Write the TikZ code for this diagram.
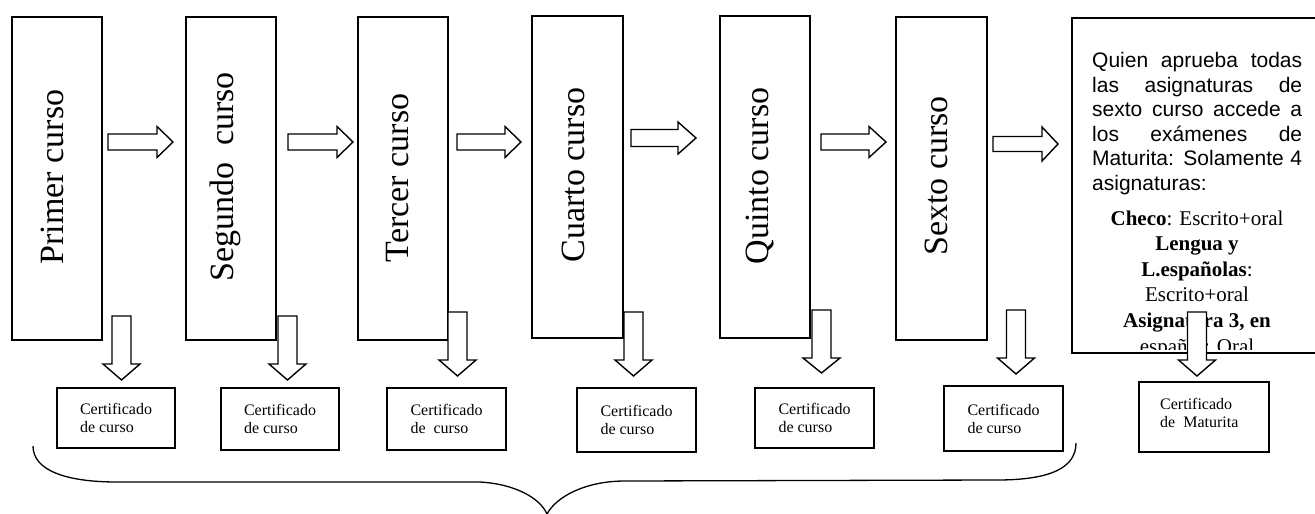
\documentclass[tikz,border=0pt]{standalone}
\usepackage{fontspec}
\setmainfont{Liberation Serif}
\newfontfamily\arialf{Liberation Sans}
\newcommand\myRarrow[6]{%
  \draw[blockarrow] (#1,{#4-#5}) -- (#2,{#4-#5}) -- (#2,{#4-#6}) -- (#3,#4) -- (#2,{#4+#6}) -- (#2,{#4+#5}) -- (#1,{#4+#5}) -- cycle;}
\newcommand\myDarrow[4]{%
  \draw[blockarrow] ({#1-9.5},#2) -- ({#1+9.5},#2) -- ({#1+9.5},#3) -- ({#1+18.5},#3) -- (#1,#4) -- ({#1-18.5},#3) -- ({#1-9.5},#3) -- cycle;}
\begin{document}
\begin{tikzpicture}[x=1pt,y=-1pt,
  bigbox/.style={draw, line width=1.5pt, anchor=north west, inner sep=0pt},
  vlabel/.style={rotate=90, anchor=base, inner sep=0pt, font=\fontsize{34}{40}\selectfont},
  certbox/.style={draw, line width=1.5pt, align=left, inner sep=0pt, font=\fontsize{16}{18}\selectfont},
  certtxt/.style={align=left, inner sep=0pt, font=\fontsize{16}{18}\selectfont},
  blockarrow/.style={draw, line width=1.4pt, fill=white, line join=miter},
  sansline/.style={anchor=base west, inner sep=0pt, font=\arialf\fontsize{21}{24}\selectfont},
  serifline/.style={anchor=base, inner sep=0pt, font=\fontsize{21}{25}\selectfont},
  bracepath/.style={line width=1.3pt}]
\useasboundingbox (0,0) rectangle (1315,514);
\fill[white] (0,0) rectangle (1315,514);

% tall course boxes
\node[bigbox, minimum width=90pt, minimum height=323pt] (b1) at (11,16) {};
\node[bigbox, minimum width=90pt, minimum height=323pt] (b2) at (185,16) {};
\node[bigbox, minimum width=90pt, minimum height=323pt] (b3) at (357,16) {};
\node[bigbox, minimum width=91pt, minimum height=322pt] (b4) at (531,15) {};
\node[bigbox, minimum width=90pt, minimum height=322pt] (b5) at (719,15) {};
\node[bigbox, minimum width=91pt, minimum height=323pt] (b6) at (895,16) {};

\node[vlabel] (l1) at (63,177) {Primer curso};
\node[vlabel] (l2) at (233,177) {Segundo\ \ curso};
\node[vlabel] (l3) at (408,178) {Tercer curso};
\node[vlabel] (l4) at (584,175) {Cuarto curso};
\node[vlabel] (l5) at (768,176) {Quinto curso};
\node[vlabel] (l6) at (947,176) {Sexto curso};

% Maturita text box
\node[bigbox, minimum width=262pt, minimum height=335pt] (t) at (1071,17) {};
\node[sansline] (s1) at (1092,67.5) {\makebox[210pt][s]{Quien aprueba todas}};
\node[sansline] (s2) at (1092,92) {\makebox[210pt][s]{las asignaturas de}};
\node[sansline] (s3) at (1092,116.5) {\makebox[210pt][s]{sexto curso accede a}};
\node[sansline] (s4) at (1092,141) {\makebox[210pt][s]{los exámenes de}};
\node[sansline] (s5) at (1092,165.5) {\makebox[210pt][s]{Maturita: Solamente 4}};
\node[sansline] (s6) at (1092,190) {asignaturas:};
\begin{scope}
\clip (1073,19) rectangle (1320,349);
\node[serifline] (r1) at (1197,225) {\textbf{Checo}: Escrito+oral};
\node[serifline] (r2) at (1197,250.6) {\textbf{Lengua y}};
\node[serifline] (r3) at (1197,276.2) {\textbf{L.españolas}:};
\node[serifline] (r4) at (1197,301.8) {Escrito+oral};
\node[serifline] (r5) at (1197,327.4) {\textbf{Asignatura 3, en}};
\node[serifline] (r6) at (1197,353) {español: Oral};
\end{scope}

% horizontal block arrows
\myRarrow{108}{157}{173}{142}{8}{15.5}
\myRarrow{288}{337}{353}{142}{8}{15.5}
\myRarrow{457}{505}{521}{142}{8}{15.5}
\myRarrow{631}{678}{696}{138}{8.5}{16}
\myRarrow{821}{869}{886}{142}{8}{15.5}
\myRarrow{993}{1042}{1058}{144}{7.5}{17}

% certificate boxes
\node[certbox, minimum width=118pt, minimum height=60pt] (c1) at (116,418) {Certificado\\de curso};
\node[certbox, minimum width=118pt, minimum height=62pt] (c2) at (280,419) {Certificado\\de curso};
\node[certbox, minimum width=119pt, minimum height=62pt] (c3) at (446.5,419) {Certificado\\de\ \ curso};
\node[certbox, minimum width=119pt, minimum height=64pt] (c4) at (636.5,420) {Certificado\\de curso};
\node[certbox, minimum width=119pt, minimum height=60pt] (c5) at (814.5,418) {Certificado\\de curso};
\node[certbox, minimum width=119pt, minimum height=65pt] (c6) at (1003.5,418.5) {Certificado\\de curso};
\node[certbox, minimum width=130pt, minimum height=70pt] (c7) at (1204,417) {};
\node[certtxt, anchor=west] (c7t) at (1160,412.5) {Certificado\\de\ \ Maturita};

% downward block arrows
\myDarrow{121.5}{316}{364}{380}
\myDarrow{287.5}{316}{364}{380}
\myDarrow{457.5}{312}{360}{376}
\myDarrow{633.5}{312}{360}{376}
\myDarrow{821.5}{310}{358}{373}
\myDarrow{1016}{310}{358}{374}
\myDarrow{1197}{312}{360}{376}

% brace
\draw[bracepath] (33,446) .. controls (33,470) and (65,482) .. (117,482) -- (480,482)
  .. controls (515,484) and (540,498) .. (547,514)
  .. controls (556,497) and (585,481) .. (625,481) -- (997,480)
  .. controls (1050,480) and (1076,468) .. (1076,443);
\end{tikzpicture}
\end{document}
